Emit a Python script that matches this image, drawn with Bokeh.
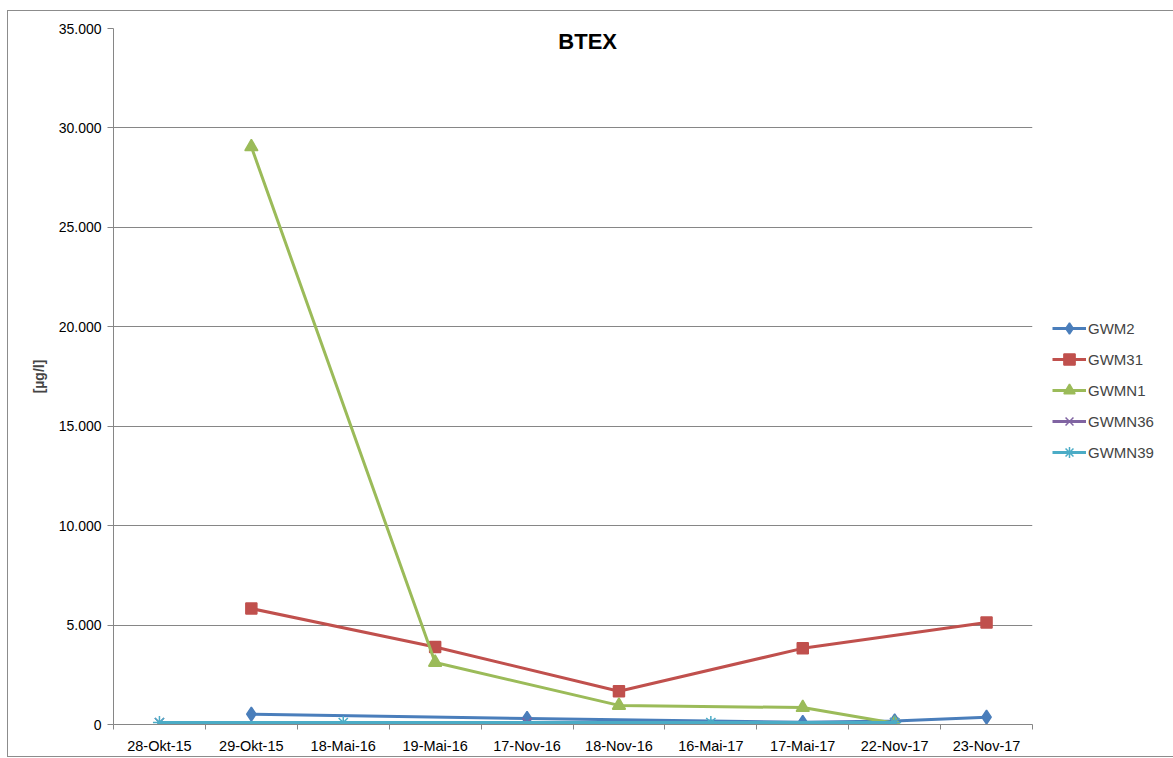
from bokeh.plotting import figure
from bokeh.models import Range1d, FixedTicker, ColumnDataSource, Label, Legend, LegendItem
from bokeh.embed import file_html
from bokeh.resources import INLINE

dates = ["28-Okt-15", "29-Okt-15", "18-Mai-16", "19-Mai-16", "17-Nov-16",
         "18-Nov-16", "16-Mai-17", "17-Mai-17", "22-Nov-17", "23-Nov-17"]
GWM2 = [None, 520, None, None, 300, None, None, 110, 180, 370]
GWM31 = [None, 5830, None, 3900, None, 1670, None, 3830, None, 5130]
GWMN1 = [None, 29050, None, 3120, None, 960, None, 850, 60, None]
GWMN36 = [100, None, None, None, 100, None, None, None, 100, None]
GWMN39 = [100, None, 100, None, None, None, 100, None, 100, None]
y_ticks = [0, 5000, 10000, 15000, 20000, 25000, 30000, 35000]
y_tick_labels = ["0", "5.000", "10.000", "15.000", "20.000", "25.000", "30.000", "35.000"]

series = [
    ("GWM2", GWM2, "#4A7EBB", "diamond", 14),
    ("GWM31", GWM31, "#C0504D", "square", 11),
    ("GWMN1", GWMN1, "#9BBB59", "triangle", 13),
    ("GWMN36", GWMN36, "#8064A2", "x", 13),
    ("GWMN39", GWMN39, "#4BACC6", "asterisk", 13),
]

FONT = "Liberation Sans"

p = figure(frame_width=919, frame_height=696, output_backend="svg",
           toolbar_location=None, x_range=Range1d(-0.5, 9.5),
           y_range=Range1d(0, 35000), min_border_left=105, min_border_top=17,
           min_border_right=10, min_border_bottom=29)
p.outline_line_color = None
p.background_fill_color = "white"
p.border_fill_color = "white"

xs = list(range(len(dates)))
p.xaxis.ticker = FixedTicker(ticks=xs, minor_ticks=[i - 0.5 for i in range(len(dates) + 1)])
p.xaxis.major_label_overrides = {i: d for i, d in enumerate(dates)}
p.xaxis.major_tick_out = 0
p.xaxis.major_tick_in = 0
p.xaxis.minor_tick_out = 5
p.xaxis.minor_tick_in = 0
p.xaxis.minor_tick_line_color = "#868686"
p.xaxis.axis_line_color = "#868686"
p.xaxis.major_label_standoff = 8
p.xaxis.major_label_text_font = FONT
p.xaxis.major_label_text_font_size = "14.5px"
p.xaxis.major_label_text_color = "#000000"
p.xgrid.grid_line_color = None

p.yaxis.ticker = FixedTicker(ticks=y_ticks)
p.yaxis.major_label_overrides = {t: l for t, l in zip(y_ticks, y_tick_labels)}
p.yaxis.major_tick_out = 6
p.yaxis.major_tick_in = 0
p.yaxis.minor_tick_line_color = None
p.yaxis.major_tick_line_color = "#868686"
p.yaxis.axis_line_color = "#868686"
p.yaxis.major_label_standoff = 6
p.yaxis.major_label_text_font = FONT
p.yaxis.major_label_text_font_size = "14px"
p.yaxis.major_label_text_color = "#000000"
p.yaxis.axis_label = "[µg/l]"
p.yaxis.axis_label_text_font = FONT
p.yaxis.axis_label_text_font_style = "bold"
p.yaxis.axis_label_text_font_size = "14px"
p.yaxis.axis_label_standoff = 9
p.ygrid.grid_line_color = "#868686"
p.ygrid.grid_line_width = 1

items = []
for name, vals, color, marker, size in series:
    px = [x for x, v in zip(xs, vals) if v is not None]
    py = [v for v in vals if v is not None]
    src = ColumnDataSource(dict(x=px, y=py))
    r1 = p.line("x", "y", source=src, line_color=color, line_width=3)
    r2 = p.scatter("x", "y", source=src, marker=marker, size=size, fill_color=color,
                   line_color=color, line_width=1.5)
    items.append(LegendItem(label=name, renderers=[r1, r2]))

p.add_layout(Label(x=4.66, y=34350, text="BTEX", text_font=FONT,
                   text_font_style="bold", text_font_size="22px",
                   text_align="center", text_baseline="middle", text_color="#000000"))

leg = Legend(items=items, location=(20, 258))
leg.padding = 0
leg.margin = 0
leg.spacing = 3
leg.glyph_width = 34
leg.glyph_height = 28
leg.label_standoff = 2
leg.label_text_font = FONT
leg.label_text_font_size = "15px"
leg.background_fill_alpha = 0
leg.border_line_color = None
p.add_layout(leg, "right")

p.styles = {"border": "1px solid #8c8c8c", "margin-left": "7px", "margin-top": "10px"}

open("out.html", "w").write(file_html(p, INLINE))
